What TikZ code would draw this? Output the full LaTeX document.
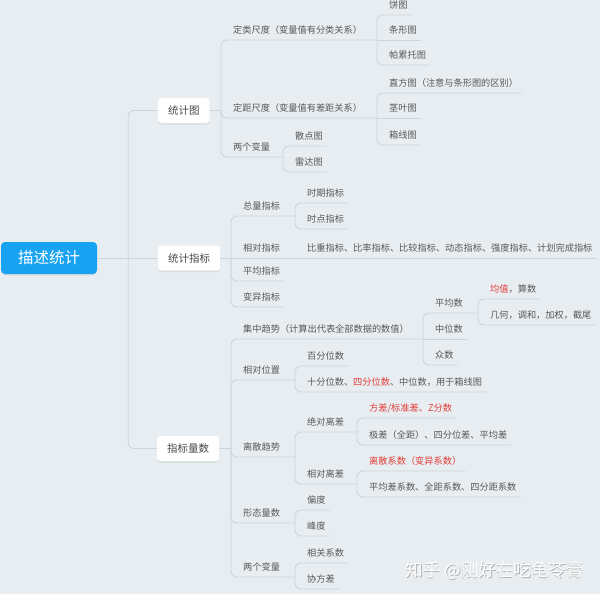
\documentclass[tikz,border=0pt]{standalone}
\usepackage{fontspec}
\setmainfont{Noto Sans CJK SC}
\usetikzlibrary{shadows}

\definecolor{bg}{RGB}{232,237,241}
\definecolor{linec}{RGB}{206,212,217}
\definecolor{txt}{RGB}{88,88,88}
\definecolor{hot}{RGB}{225,62,56}
\definecolor{rootblue}{RGB}{24,163,242}

\tikzset{
  leaf/.style={anchor=south west, inner xsep=0pt, inner ysep=4pt, text depth=2.5pt,
    text=txt, font=\fontsize{9.2}{11}\selectfont},
  topic/.style={anchor=west, fill=white, rounded corners=3pt, inner xsep=10pt,
    minimum height=25pt, text=black!72, font=\fontsize{10.5}{12}\selectfont,
    drop shadow={shadow xshift=0pt, shadow yshift=-1.5pt, opacity=0.15}},
  link/.style={draw=linec, line width=0.9pt, rounded corners=6pt},
}

\begin{document}
\begin{tikzpicture}[x=1pt, y=-1pt]
    \useasboundingbox (0,0) rectangle (600,594);
    \fill[bg] (0,0) rectangle (600,594);

    % Root and main topics
    \node[fill=rootblue, rounded corners=4pt, text=white, minimum width=96pt,
          minimum height=32pt, font=\fontsize{15.5}{18}\selectfont,
          drop shadow={shadow xshift=0pt, shadow yshift=-1.5pt, opacity=0.15}]
          (root) at (49,258) {描述统计};
    \node[topic] (tj) at (158,110.5) {统计图};
    \node[topic] (zb) at (158,258) {统计指标};
    \node[topic] (lz) at (157,448.5) {指标量数};

    % Branches of 统计图
    \node[leaf] (dl) at (233,40) {定类尺度（变量值有分类关系）};
    \node[leaf] (dj) at (233,118) {定距尺度（变量值有差距关系）};
    \node[leaf] (lb) at (233,157) {两个变量};
    \node[leaf] (bt) at (389,15) {饼图};
    \node[leaf] (tx) at (389,40) {条形图};
    \node[leaf] (plt) at (389,65) {帕累托图};
    \node[leaf] (zft) at (389,93) {直方图（注意与条形图的区别）};
    \node[leaf] (jyt) at (389,118) {茎叶图};
    \node[leaf] (xxt) at (389,145) {箱线图};
    \node[leaf] (sdt) at (295,146) {散点图};
    \node[leaf] (ldt) at (295,172) {雷达图};

    % Branches of 统计指标
    \node[leaf] (zl) at (243,216) {总量指标};
    \node[leaf] (xd) at (243,258) {相对指标};
    \node[leaf] (pj) at (243,281) {平均指标};
    \node[leaf] (by) at (243,307) {变异指标};
    \node[leaf] (sq) at (307,203) {时期指标};
    \node[leaf] (sd) at (307,229) {时点指标};
    \node[leaf] (bz) at (307,258) {比重指标、比率指标、比较指标、动态指标、强度指标、计划完成指标};

    % Branches of 指标量数
    \node[leaf] (jz) at (243,339) {集中趋势（计算出代表全部数据的数值）};
    \node[leaf] (xw) at (243,380) {相对位置};
    \node[leaf] (ls) at (243,457) {离散趋势};
    \node[leaf] (xt) at (243,523) {形态量数};
    \node[leaf] (lb2) at (243,577) {两个变量};
    \node[leaf] (pjs) at (435,313) {平均数};
    \node[leaf] (zws) at (435,339) {中位数};
    \node[leaf] (zs) at (435,365) {众数};
    \node[leaf] (jzs) at (490,299) {\textcolor{hot}{均值}，算数};
    \node[leaf] (jh) at (490,325) {几何，调和，加权，截尾};
    \node[leaf] (bfw) at (307,366) {百分位数};
    \node[leaf] (sfw) at (307,392) {十分位数、\textcolor{hot}{四分位数}、中位数，用于箱线图};
    \node[leaf] (jd) at (307,432) {绝对离差};
    \node[leaf] (xdl) at (307,484) {相对离差};
    \node[leaf, text=hot] (fc) at (369,418) {方差/标准差、Z分数};
    \node[leaf] (jc) at (369,445) {极差（全距）、四分位差、平均差};
    \node[leaf, text=hot] (lx) at (369,471) {离散系数（变异系数）};
    \node[leaf] (pjx) at (369,497) {平均差系数、全距系数、四分距系数};
    \node[leaf] (pd) at (307,510) {偏度};
    \node[leaf] (fd) at (307,536) {峰度};
    \node[leaf] (xg) at (307,563) {相关系数};
    \node[leaf] (xf) at (307,589) {协方差};

    % Fork points
    \coordinate (rf) at ([xshift=31pt]root.east);
    \coordinate (tj-f) at (tj.east -| 221,0);
    \coordinate (zb-f) at (zb.east -| 231,0);
    \coordinate (lz-f) at (lz.east -| 231,0);
    \coordinate (dl-f) at (dl.south -| 377,0);
    \coordinate (dj-f) at (dj.south -| 377,0);
    \coordinate (lb-f) at (lb.south -| 283,0);
    \coordinate (zl-f) at (zl.south -| 295,0);
    \coordinate (xd-f) at (xd.south -| 295,0);
    \coordinate (jz-f) at (jz.south -| 423,0);
    \coordinate (pjs-f) at (pjs.south -| 478,0);
    \coordinate (xw-f) at (xw.south -| 295,0);
    \coordinate (ls-f) at (ls.south -| 295,0);
    \coordinate (jd-f) at (jd.south -| 357,0);
    \coordinate (xdl-f) at (xdl.south -| 357,0);
    \coordinate (xt-f) at (xt.south -| 295,0);
    \coordinate (lb2-f) at (lb2.south -| 295,0);

    % Root connectors
    \draw[link] (root.east) -- (zb.west);
    \draw[link] (rf) |- (tj.west);
    \draw[link] (rf) |- (lz.west);

    % 统计图 connectors
    \draw[link] (tj.east) -- (tj-f);
    \draw[link] (tj-f) |- (dl-f);
    \draw[link] (tj-f) |- (dj-f);
    \draw[link] (tj-f) |- (lb-f);
    \draw[link] (dl-f) |- ([xshift=4pt]bt.south east);
    \draw[link] (dl-f) -- ([xshift=4pt]tx.south east);
    \draw[link] (dl-f) |- ([xshift=4pt]plt.south east);
    \draw[link] (dj-f) |- ([xshift=4pt]zft.south east);
    \draw[link] (dj-f) -- ([xshift=4pt]jyt.south east);
    \draw[link] (dj-f) |- ([xshift=4pt]xxt.south east);
    \draw[link] (lb-f) |- ([xshift=4pt]sdt.south east);
    \draw[link] (lb-f) |- ([xshift=4pt]ldt.south east);

    % 统计指标 connectors
    \draw[link] (zb.east) -- (zb-f);
    \draw[link] (zb-f) |- (zl-f);
    \draw[link] (zb-f) -- (xd-f);
    \draw[link] (zb-f) |- ([xshift=4pt]pj.south east);
    \draw[link] (zb-f) |- ([xshift=4pt]by.south east);
    \draw[link] (zl-f) |- ([xshift=4pt]sq.south east);
    \draw[link] (zl-f) |- ([xshift=4pt]sd.south east);
    \draw[link] (xd-f) -- ([xshift=4pt]bz.south east);

    % 指标量数 connectors
    \draw[link] (lz.east) -- (lz-f);
    \draw[link] (lz-f) |- (jz-f);
    \draw[link] (lz-f) |- (xw-f);
    \draw[link] (lz-f) |- (ls-f);
    \draw[link] (lz-f) |- (xt-f);
    \draw[link] (lz-f) |- (lb2-f);
    \draw[link] (jz-f) |- (pjs-f);
    \draw[link] (jz-f) -- ([xshift=4pt]zws.south east);
    \draw[link] (jz-f) |- ([xshift=4pt]zs.south east);
    \draw[link] (pjs-f) |- ([xshift=4pt]jzs.south east);
    \draw[link] (pjs-f) |- ([xshift=4pt]jh.south east);
    \draw[link] (xw-f) |- ([xshift=4pt]bfw.south east);
    \draw[link] (xw-f) |- ([xshift=4pt]sfw.south east);
    \draw[link] (ls-f) |- (jd-f);
    \draw[link] (ls-f) |- (xdl-f);
    \draw[link] (jd-f) |- ([xshift=4pt]fc.south east);
    \draw[link] (jd-f) |- ([xshift=4pt]jc.south east);
    \draw[link] (xdl-f) |- ([xshift=4pt]lx.south east);
    \draw[link] (xdl-f) |- ([xshift=4pt]pjx.south east);
    \draw[link] (xt-f) |- ([xshift=4pt]pd.south east);
    \draw[link] (xt-f) |- ([xshift=4pt]fd.south east);
    \draw[link] (lb2-f) |- ([xshift=4pt]xg.south east);
    \draw[link] (lb2-f) |- ([xshift=4pt]xf.south east);

    % Watermark
    \node[anchor=west, text=black!30, font=\fontsize{17.5}{20}\selectfont]
          (wm-s) at (402.7,571.7) {知乎 @刚好在吃龟苓膏};
    \node[anchor=west, text=white, font=\fontsize{17.5}{20}\selectfont]
          (wm) at (402,571) {知乎 @刚好在吃龟苓膏};
\end{tikzpicture}
\end{document}
